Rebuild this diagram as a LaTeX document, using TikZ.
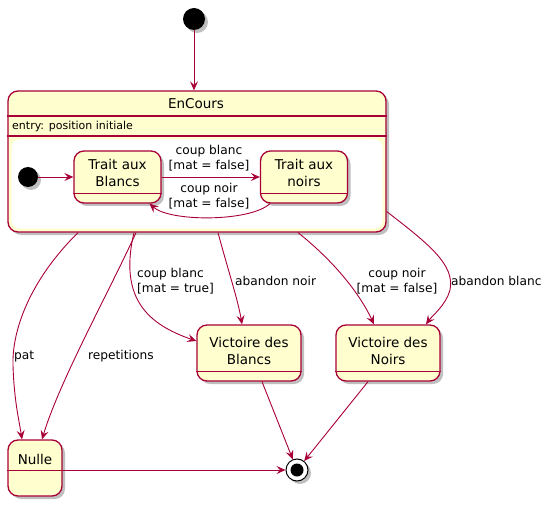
\documentclass[tikz,border=0pt]{standalone}
\usepackage{fontspec}
\setmainfont{DejaVu Sans}
\usetikzlibrary{arrows.meta,shadows,calc}
\definecolor{stfill}{HTML}{FEFECE}
\definecolor{stline}{HTML}{A80036}
\newcommand\stfont{\fontsize{13.5}{17}\selectfont}
\newcommand\lbfont{\fontsize{12.2}{15}\selectfont}
\begin{document}
\begin{tikzpicture}[x=1pt,y=-1pt,
  shad/.style={drop shadow={shadow xshift=3pt,shadow yshift=-3pt,opacity=0.25,fill=black}},
  statebox/.style={draw=stline,fill=stfill,line width=1.3pt,rounded corners=10pt,inner sep=0pt,shad},
  sttext/.style={font=\stfont,align=center,inner sep=0pt},
  lbl/.style={font=\lbfont,align=center,inner sep=0pt},
  divline/.style={draw=stline,line width=1.1pt},
  tr/.style={draw=stline,line width=0.9pt,-{Stealth[length=9pt,width=8pt,inset=3.5pt]}},
  startdot/.style={circle,fill=black,inner sep=0pt,minimum size=#1,shad},
]
\useasboundingbox (0,0) rectangle (554,505);

% initial state
\node[startdot=22pt] (start) at (194,19) {};

% composite state EnCours
\node[statebox,minimum width=378pt,minimum height=141pt] (enc) at (197,161.5) {};
\node[sttext] (enct) at (196,104) {EnCours};
\draw[divline] (enc.west |- 0,116) -- (enc.east |- 0,116);
\node[lbl,font=\fontsize{11}{14}\selectfont,anchor=west] (entry) at (12,126) {entry: position initiale};
\draw[divline] (enc.west |- 0,136) -- (enc.east |- 0,136);
\node[fill=white,rounded corners=8pt,minimum width=371pt,minimum height=89pt,inner sep=0pt] (encbody) at (197,184) {};

% inner states
\node[startdot=20pt] (istart) at (28,177) {};
\node[statebox,minimum width=87pt,minimum height=52pt] (tb) at (117.5,177) {};
\node[sttext] (tbt) at (117.5,172.5) {Trait aux\\Blancs};
\draw[divline] ([yshift=10pt]tb.south west) -- ([yshift=10pt]tb.south east);
\node[statebox,minimum width=87pt,minimum height=52pt] (tn) at (304,177) {};
\node[sttext] (tnt) at (304,172.5) {Trait aux\\noirs};
\draw[divline] ([yshift=10pt]tn.south west) -- ([yshift=10pt]tn.south east);

% outer states
\node[statebox,minimum width=104pt,minimum height=56pt] (vdb) at (249,353) {};
\node[sttext] (vdbt) at (249,350.5) {Victoire des\\Blancs};
\draw[divline] ([yshift=10pt]vdb.south west) -- ([yshift=10pt]vdb.south east);
\node[statebox,minimum width=104pt,minimum height=56pt] (vdn) at (388,353) {};
\node[sttext] (vdnt) at (388,350.5) {Victoire des\\Noirs};
\draw[divline] ([yshift=10pt]vdn.south west) -- ([yshift=10pt]vdn.south east);
\node[statebox,minimum width=54pt,minimum height=56pt] (nulle) at (35,468) {};
\node[sttext] (nullet) at (35,459) {Nulle};
\draw[divline] ([yshift=26pt]nulle.south west) -- ([yshift=26pt]nulle.south east);

% final state
\node[circle,draw=black,fill=white,line width=1pt,minimum size=22pt,inner sep=0pt,shad] (fin) at (297,470) {};
\node[circle,fill=black,minimum size=13pt,inner sep=0pt] (finin) at (fin) {};

% transitions
\draw[tr] (start) -- (enc.north -| start);
\draw[tr] (istart) -- (tb.west);
\draw[tr] (tb.east) -- (tn.west);
\node[lbl] (l1) at (209,158) {coup blanc\\{[mat = false]}};
\draw[tr] ([xshift=-34pt]tn.south) .. controls (250,222) and (170,222) .. ([xshift=32pt]tb.south);
\node[lbl] (l2) at (209,196.5) {coup noir\\{[mat = false]}};

\draw[tr] ([xshift=-119pt]enc.south) .. controls (30,280) and (12,330) .. (13,365) .. controls (14,400) and (19,420) .. ([xshift=-13pt]nulle.north);
\node[lbl,anchor=west] (l3) at (14,356) {pat};
\draw[tr] ([xshift=-61pt]enc.south) .. controls (110,290) and (60,380) .. ([xshift=7pt]nulle.north);
\node[lbl,anchor=west] (l4) at (88,356) {repetitions};
\draw[tr] ([xshift=-63pt]enc.south) .. controls (118,300) and (150,325) .. ([yshift=12pt]vdb.west);
\node[lbl,align=left,anchor=west] (l5) at (137,281) {coup blanc\\{[mat = true]}};
\draw[tr] ([xshift=21pt]enc.south) .. controls (228,270) and (238,300) .. ([xshift=-7pt]vdb.north);
\node[lbl,anchor=west] (l6) at (235,281) {abandon noir};
\draw[tr] ([xshift=101pt]enc.south) .. controls (330,258) and (358,290) .. ([xshift=-14pt]vdn.north);
\node[lbl] (l7) at (397,281) {coup noir\\{[mat = false]}};
\draw[tr] ([yshift=-50pt]enc.east) .. controls (430,245) and (455,265) .. (450,290) .. controls (446,305) and (432,316) .. ([xshift=38pt]vdn.north);
\node[lbl,anchor=west] (l8) at (451,281) {abandon blanc};

\draw[tr] ([xshift=13pt]vdb.south) -- (fin);
\draw[tr] ([xshift=-20pt]vdn.south) -- (fin);
\draw[tr] (fin -| nulle.east) -- (fin);
\end{tikzpicture}
\end{document}
